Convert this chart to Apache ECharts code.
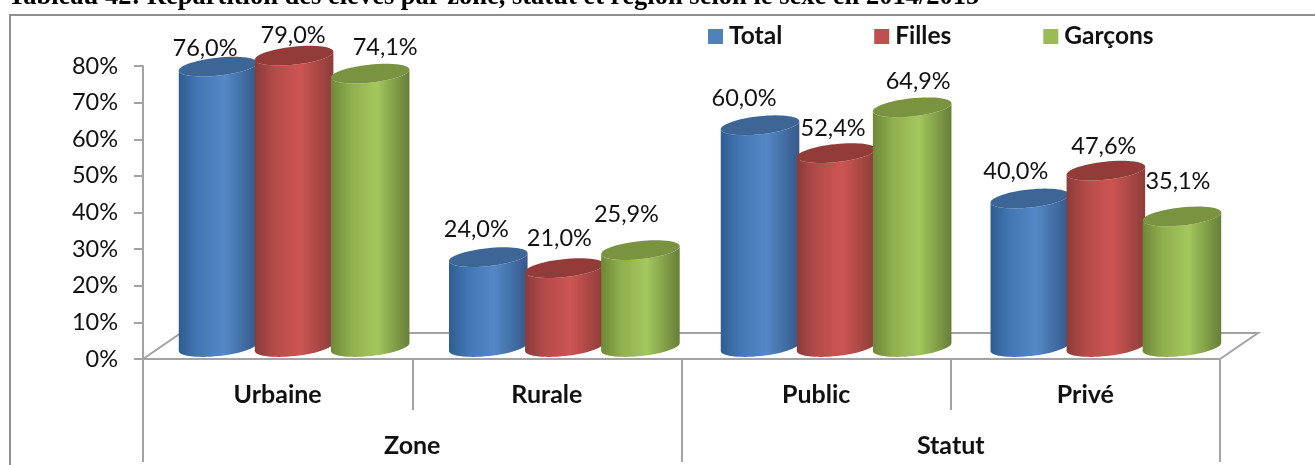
<!DOCTYPE html>
<html><head><meta charset="utf-8">
<style>html,body{margin:0;padding:0;background:#fff}#c{width:1315px;height:465px}</style>
<script src="https://cdn.jsdelivr.net/npm/echarts@6/dist/echarts.min.js"></script>
</head><body><div id="c"></div>
<script>
const categories = ['Urbaine','Rurale','Public','Privé'];
const groups = ['Zone','Statut'];
const seriesNames = ['Total','Filles','Garçons'];
const total = [76.0,24.0,60.0,40.0];
const filles = [79.0,21.0,52.4,47.6];
const garcons = [74.1,25.9,64.9,35.1];
const yTicks = {min:0,max:80,interval:10};
const titleText = 'Tableau 42: Répartition des élèves par zone, statut et région selon le sexe en 2014/2015';

// appearance: [edge, mid, centre, far edge, top]
const palette = [
  ['#2f5d90','#4478b4','#5488c6','#35598a','#3d6696'],
  ['#8a3c3a','#b44b49','#cd5554','#8c3d3a','#933b39'],
  ['#6f8839','#8fae4e','#a4c75d','#667f37','#7a9340']
];
const legendColors = ['#4f81bd','#c0504d','#9bbb59'];
// label offset from the cylinder's top (placed by hand in the original)
const labelDx = [[-13,-12,-16,-14],[-1,-5,-3,-2],[15,-14,6,-4]];
const labelDy = [[-19,-28,-27,-28],[-21,-30,-25,-25],[-27,-36,-26,-36]];
const groupNudge = [-1,0,2.5,3];
const FONT = 'Lato';
const GRAY = '#a3a3a3';
const DEPTH_X = 38, DEPTH_Y = 26;
const TILT = 4.2, MINOR = 9;

function ellipsePts(cx, cy, a, from, to, n){
  const pts=[], sinT=TILT/a, cosT=Math.sqrt(1-sinT*sinT);
  for(let i=0;i<=n;i++){
    const t=from+(to-from)*i/n, ex=a*Math.cos(t), ey=MINOR*Math.sin(t);
    pts.push([cx+ex*cosT+ey*sinT, cy-ex*sinT+ey*cosT]);
  }
  return pts;
}
function fmt(v){return v.toFixed(1).replace('.',',')+'%';}

function cylinder(si){
  return function(params, api){
    const cat=api.value(0), v=api.value(1);
    const band=api.size([1,0])[0];
    const spacing=band*0.2825, a=band*0.1467;
    const p=api.coord([cat,v]), p0=api.coord([cat,0]);
    const cx=p[0]+DEPTH_X*0.46+(si-1)*spacing+groupNudge[cat];
    const topY=p[1]-14, baseY=p0[1]-12;
    const c=palette[si];
    const side=ellipsePts(cx,topY,a,Math.PI,0,30).concat(ellipsePts(cx,baseY,a,0,Math.PI,30));
    const top=ellipsePts(cx,topY,a,0,Math.PI*2,60);
    return {type:'group',children:[
      {type:'text',z2:1,style:{text:fmt(v),x:cx+labelDx[si][cat],y:topY+0.5+labelDy[si][cat],
        align:'center',verticalAlign:'middle',font:'23.5px '+FONT,fill:'#111'}},
      {type:'polygon',z2:10+si*2,shape:{points:side},style:{fill:new echarts.graphic.LinearGradient(0,0,1,0,[
        {offset:0,color:c[0]},{offset:0.25,color:c[1]},{offset:0.58,color:c[2]},{offset:1,color:c[3]}])}},
      {type:'polygon',z2:11+si*2,shape:{points:top},style:{fill:c[4]}}
    ]};
  };
}
function floorRender(params, api){
  const g=params.coordSys, b=g.y+g.height, r=g.x+g.width;
  const ls={stroke:GRAY,lineWidth:2,fill:'none'};
  return {type:'polyline',z2:0,shape:{points:[[g.x,b],[g.x+DEPTH_X,b-DEPTH_Y],[r+DEPTH_X,b-DEPTH_Y],[r,b]]},style:ls};
}
const chart=echarts.init(document.getElementById('c'),null,{renderer:'canvas'});
const vals=[total,filles,garcons];
chart.setOption({
  animation:false,backgroundColor:'#fff',
  title:{text:titleText,left:8,top:-16,padding:0,textStyle:{fontFamily:'Liberation Serif',fontWeight:'bold',fontSize:26.5,color:'#000'}},
  graphic:[{type:'polyline',silent:true,z:0,shape:{points:[[10,465],[10,15],[1315,15]]},style:{stroke:'#8f8f8f',lineWidth:2,fill:'none'}}],
  legend:{data:seriesNames,left:703,top:19,itemWidth:15,itemHeight:15,itemGap:92,icon:'rect',
    textStyle:{fontFamily:FONT,fontWeight:'bold',fontSize:24.5,color:'#111',padding:[0,0,0,1]}},
  grid:{left:143,right:95,top:66,bottom:106,containLabel:false},
  xAxis:[
    {type:'category',data:categories,position:'bottom',
     axisLine:{lineStyle:{color:GRAY,width:2}},axisTick:{show:true,length:51,alignWithLabel:false,lineStyle:{color:GRAY,width:2}},
     axisLabel:{margin:23,fontFamily:FONT,fontWeight:'bold',fontSize:25,color:'#111'}},
    {type:'category',data:groups,position:'bottom',offset:51,
     axisLine:{show:false},axisTick:{show:true,length:52,lineStyle:{color:GRAY,width:2}},
     axisLabel:{margin:23,fontFamily:FONT,fontWeight:'bold',fontSize:25,color:'#111'}}
  ],
  yAxis:{type:'value',min:yTicks.min,max:yTicks.max,interval:yTicks.interval,
    axisLine:{show:true,lineStyle:{color:GRAY,width:2}},axisTick:{show:true,length:9,lineStyle:{color:GRAY,width:2}},
    splitLine:{show:false},axisLabel:{margin:25,formatter:'{value}%',fontFamily:FONT,fontSize:23.5,color:'#111'}},
  series:[
    {type:'custom',name:'_floor',silent:true,coordinateSystem:'cartesian2d',data:[[0,0]],renderItem:floorRender,z:2,clip:false}
  ].concat(seriesNames.map((n,si)=>({
    type:'custom',name:n,coordinateSystem:'cartesian2d',clip:false,z:2,
    itemStyle:{color:legendColors[si]},
    encode:{x:0,y:1},
    data:vals[si].map((v,i)=>[i,v]),
    renderItem:cylinder(si)
  })))
});
</script></body></html>
